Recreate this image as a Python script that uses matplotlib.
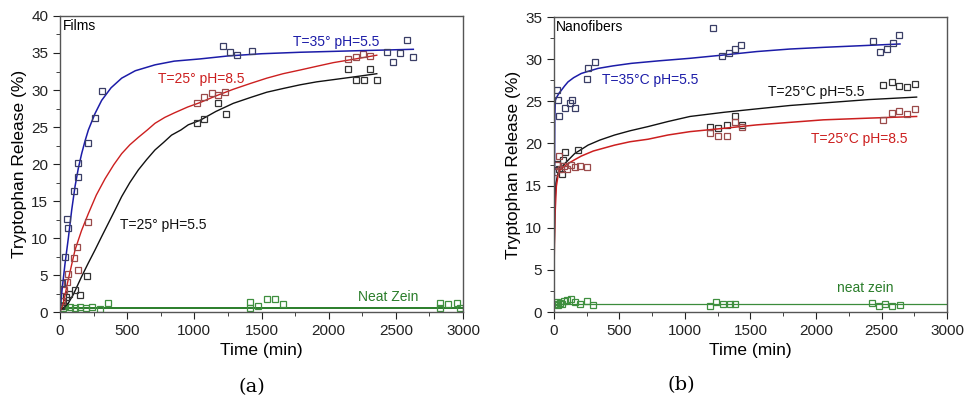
from matplotlib import pyplot as plt
import numpy as np

plt.rcParams['font.family'] = ['Liberation Sans', 'DejaVu Sans']

# ---- Panel (a): Films ----
a_blue_t = [12, 37, 50, 62, 104, 131, 136, 206, 261, 310, 1216, 1266, 1320, 1427, 2432, 2482, 2531, 2586, 2630]
a_blue_y = [3.9, 7.5, 12.6, 11.3, 16.4, 18.3, 20.1, 22.9, 26.2, 29.8, 35.9, 35.1, 34.7, 35.3, 35.1, 33.8, 35.0, 36.8, 34.5]
a_red_t = [15, 30, 50, 62, 104, 124, 136, 206, 1017, 1071, 1128, 1178, 1227, 2145, 2202, 2256, 2306]
a_red_y = [1.5, 3.0, 4.0, 5.2, 7.3, 8.8, 5.7, 12.2, 28.2, 29.1, 29.6, 29.3, 29.7, 34.2, 34.5, 34.8, 34.6]
a_black_t = [10, 25, 45, 70, 112, 149, 203, 1017, 1071, 1178, 1232, 2145, 2207, 2264, 2306, 2356]
a_black_y = [0.8, 1.5, 2.0, 2.5, 3.0, 2.3, 4.9, 25.5, 26.1, 28.3, 26.8, 32.9, 31.3, 31.4, 32.9, 31.3]
a_green_t = [10, 25, 40, 75, 110, 149, 190, 236, 298, 360, 1415, 1415, 1476, 1539, 1601, 1663, 2830, 2830, 2891, 2953, 2980]
a_green_y = [1.0, 0.6, 0.8, 0.7, 0.5, 0.7, 0.6, 0.7, 0.4, 1.2, 1.3, 0.5, 0.8, 1.8, 1.8, 1.1, 1.2, 0.5, 1.1, 1.2, 0.6]

# fitted curves
a_blue_fit_t = [0, 12, 37, 62, 87, 112, 136, 161, 186, 211, 260, 310, 380, 459, 560, 707, 850, 1042, 1250, 1500, 1787, 2200, 2630]
a_blue_fit_y = [0, 2.5, 6.5, 10.0, 13.8, 17.0, 19.4, 21.4, 23.1, 24.6, 26.8, 28.6, 30.3, 31.6, 32.6, 33.4, 33.9, 34.2, 34.6, 34.9, 35.1, 35.3, 35.5]
a_red_fit_t = [0, 25, 60, 112, 160, 211, 270, 335, 400, 459, 520, 583, 650, 707, 780, 850, 950, 1042, 1160, 1290,
               1420, 1539, 1660, 1787, 1910, 2035, 2200, 2358]
a_red_fit_y = [0, 1.2, 4.3, 8.4, 11.0, 13.3, 15.8, 18.0, 19.9, 21.4, 22.6, 23.6, 24.6, 25.5, 26.3, 26.9, 27.7, 28.3, 29.2, 30.1,
               30.9, 31.6, 32.2, 32.7, 33.2, 33.7, 34.2, 34.7]
a_black_fit_t = [0, 30, 62, 100, 161, 210, 261, 310, 360, 410, 459, 520, 583, 645, 707, 770, 830, 900, 955, 1042,
                 1160, 1290, 1420, 1539, 1660, 1787, 1910, 2035, 2200, 2358]
a_black_fit_y = [0.3, 0.6, 1.2, 2.4, 4.8, 6.6, 8.4, 10.2, 12.0, 13.8, 15.6, 17.5, 19.2, 20.6, 21.9, 22.9, 23.9, 24.6, 25.3, 25.9,
                 27.1, 28.2, 29.0, 29.7, 30.2, 30.7, 31.1, 31.4, 31.8, 32.2]
a_green_fit_t = [0, 3000]
a_green_fit_y = [0.5, 0.5]

# ---- Panel (b): Nanofibers ----
b_blue_t = [20, 30, 38, 84, 122, 135, 160, 249, 262, 313, 1216, 1280, 1338, 1382, 1425, 2437, 2489, 2540, 2591, 2637]
b_blue_y = [26.3, 25.1, 23.2, 24.2, 24.8, 25.1, 24.2, 27.7, 28.9, 29.7, 33.7, 30.4, 30.7, 31.2, 31.7, 32.1, 30.9, 31.2, 31.9, 32.9]
b_black_t = [20, 40, 60, 70, 84, 186, 1191, 1254, 1318, 1382, 1432, 2513, 2577, 2637, 2692, 2756]
b_black_y = [17.6, 17.0, 16.4, 18.0, 19.0, 19.2, 22.0, 21.8, 22.2, 23.2, 22.2, 26.9, 27.3, 26.8, 26.7, 27.1]
b_red_t = [10, 25, 40, 55, 75, 100, 130, 160, 200, 250, 1191, 1254, 1318, 1382, 1432, 2513, 2577, 2637, 2692, 2756]
b_red_y = [16.6, 17.5, 18.5, 17.0, 17.3, 17.0, 17.5, 17.2, 17.3, 17.2, 21.2, 20.9, 20.9, 22.6, 21.9, 22.8, 23.6, 23.9, 23.5, 24.1]
b_green_t = [10, 20, 30, 45, 60, 80, 100, 130, 160, 200, 250, 300, 1190, 1240, 1290, 1340, 1380, 2430, 2480, 2530, 2580, 2640]
b_green_y = [0.9, 1.2, 0.8, 1.1, 1.0, 1.3, 1.4, 1.5, 1.2, 1.0, 1.3, 0.8, 0.7, 1.2, 0.9, 1.0, 0.9, 1.1, 0.7, 0.9, 0.7, 0.8]

b_blue_fit_t = [0, 3, 6, 10, 15, 25, 40, 56, 80, 107, 150, 208, 270, 336, 450, 590, 800, 1038, 1300, 1547, 1800, 2056, 2350, 2641]
b_blue_fit_y = [0, 14, 23, 25.1, 25.3, 25.6, 26.0, 26.3, 26.8, 27.3, 27.8, 28.3, 28.6, 28.9, 29.2, 29.5, 29.8, 30.1, 30.5, 30.9, 31.2, 31.4, 31.6, 31.8]
b_black_fit_t = [0, 3, 8, 15, 31, 50, 82, 120, 158, 210, 260, 350, 463, 580, 718, 870, 1038, 1300, 1547, 1800, 2056, 2400, 2768]
b_black_fit_y = [0, 8, 13, 15.3, 16.5, 17.0, 17.6, 18.2, 18.8, 19.3, 19.8, 20.4, 21.0, 21.5, 22.0, 22.6, 23.2, 23.7, 24.1, 24.5, 24.8, 25.2, 25.5]
b_red_fit_t = [0, 3, 8, 18, 30, 43, 70, 107, 150, 208, 300, 463, 580, 718, 870, 1038, 1300, 1547, 1800, 2056, 2400, 2768]
b_red_fit_y = [3, 8, 11.5, 14.9, 16.1, 16.8, 17.2, 17.6, 18.0, 18.5, 19.1, 19.8, 20.2, 20.5, 21.0, 21.4, 21.8, 22.2, 22.5, 22.8, 23.0, 23.2]
b_green_fit_t = [0, 3000]
b_green_fit_y = [0.9, 0.9]

BLUE, RED, BLACK, GREEN = '#1c1ca8', '#cc1f1f', '#111111', '#2a7d2a'
MK = dict(marker='s', markersize=4.5, markerfacecolor='none', linestyle='none', markeredgewidth=0.9)

figure = plt.figure(figsize=(9.76, 4.04), dpi=100)
ax_a = figure.add_axes([0.0615, 0.2277, 0.4129, 0.7327])
ax_b = figure.add_axes([0.5676, 0.2277, 0.4027, 0.7302])


def style(ax, ymax):
    ax.set_xlim(0, 3000)
    ax.set_ylim(0, ymax)
    ax.set_xticks(np.arange(0, 3001, 500))
    ax.set_xticks(np.arange(0, 3001, 250), minor=True)
    ax.set_yticks(np.arange(0, ymax + 0.1, 5))
    ax.set_yticks(np.arange(0, ymax + 0.1, 2.5), minor=True)
    ax.tick_params(which='both', direction='out', top=False, right=False, labelsize=11, colors='#222222')
    ax.tick_params(which='major', length=5)
    ax.tick_params(which='minor', length=3)
    for s in ax.spines.values():
        s.set_color('#555555')
        s.set_linewidth(1.0)
    ax.set_xlabel('Time (min)', fontsize=12.5)
    ax.set_ylabel('Tryptophan Release (%)', fontsize=12.5, labelpad=3)


# panel (a)
ax_a.plot(a_green_fit_t, a_green_fit_y, color=GREEN, linewidth=1.4)
ax_a.plot(a_green_t, a_green_y, markeredgecolor='#3f8f3f', **MK)
ax_a.plot(a_black_fit_t, a_black_fit_y, color=BLACK, linewidth=1.0)
ax_a.plot(a_black_t, a_black_y, markeredgecolor='#333333', **MK)
ax_a.plot(a_red_fit_t, a_red_fit_y, color=RED, linewidth=1.0)
ax_a.plot(a_red_t, a_red_y, markeredgecolor='#9a4a4a', **MK)
ax_a.plot(a_blue_fit_t, a_blue_fit_y, color=BLUE, linewidth=1.1)
ax_a.plot(a_blue_t, a_blue_y, markeredgecolor='#3a3e66', **MK)
style(ax_a, 40)
ax_a.text(22, 38.6, 'Films', fontsize=10, va='center')
ax_a.text(1735, 36.5, 'T=35° pH=5.5', color=BLUE, fontsize=10, va='center')
ax_a.text(730, 31.5, 'T=25° pH=8.5', color=RED, fontsize=10, va='center')
ax_a.text(447, 11.8, 'T=25° pH=5.5', color=BLACK, fontsize=10, va='center')
ax_a.text(2219, 2.0, 'Neat Zein', color=GREEN, fontsize=10, va='center')

# panel (b)
ax_b.plot(b_green_fit_t, b_green_fit_y, color='#3c8c3c', linewidth=0.9)
ax_b.plot(b_green_t, b_green_y, markeredgecolor='#3f8f3f', **MK)
ax_b.plot(b_black_fit_t, b_black_fit_y, color=BLACK, linewidth=1.0)
ax_b.plot(b_black_t, b_black_y, markeredgecolor='#333333', **MK)
ax_b.plot(b_red_fit_t, b_red_fit_y, color=RED, linewidth=1.1)
ax_b.plot(b_red_t, b_red_y, markeredgecolor='#9a4a4a', **MK)
ax_b.plot(b_blue_fit_t, b_blue_fit_y, color=BLUE, linewidth=1.1)
ax_b.plot(b_blue_t, b_blue_y, markeredgecolor='#3a3e66', **MK)
style(ax_b, 35)
ax_b.text(15, 33.8, 'Nanofibers', fontsize=10, va='center')
ax_b.text(364, 27.5, 'T=35°C pH=5.5', color=BLUE, fontsize=10, va='center')
ax_b.text(1636, 26.1, 'T=25°C pH=5.5', color=BLACK, fontsize=10, va='center')
ax_b.text(1960, 20.5, 'T=25°C pH=8.5', color=RED, fontsize=10, va='center')
ax_b.text(2158, 2.8, 'neat zein', color=GREEN, fontsize=10, va='center')

figure.text(0.258, 0.042, '(a)', family='DejaVu Serif', fontsize=14, ha='center', va='center')
figure.text(0.698, 0.047, '(b)', family='DejaVu Serif', fontsize=14, ha='center', va='center')

figure.savefig('out.png', dpi=100)
